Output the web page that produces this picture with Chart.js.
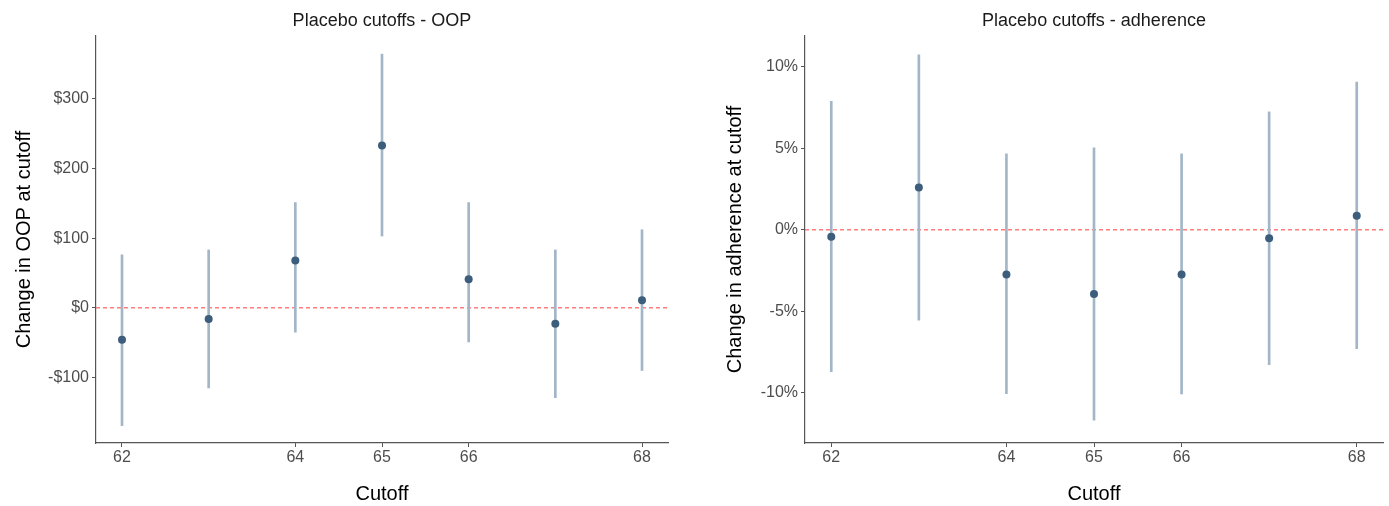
<!DOCTYPE html>
<html>
<head>
<meta charset="utf-8">
<script src="https://cdn.jsdelivr.net/npm/chart.js@4.4.1/dist/chart.umd.min.js"></script>
<style>
	html, body { margin: 0; padding: 0; background: #fff; }
	.panel { position: absolute; top: 0; height: 506px; }
	#left { left: 0; width: 694px; }
	#right { left: 694px; width: 695px; }
</style>
</head>
<body>
<div class="panel" id="left"><canvas id="oop"></canvas></div>
<div class="panel" id="right"><canvas id="adh"></canvas></div>
<script>
const cutoffs = [62, 63, 64, 65, 66, 67, 68]
const xTicks = [62, 64, 65, 66, 68]
const xRange = [61.7, 68.3]

const oopEst = [-46, -16, 68, 233, 41, -23, 11]
const oopLow = [-169, -115, -35, 103, -49, -129, -90]
const oopHigh = [76, 83, 151, 364, 151, 83, 112]
const oopTicks = [-100, 0, 100, 200, 300]
const oopRange = [-194, 390]

const adhEst = [-0.43, 2.6, -2.75, -3.94, -2.75, -0.53, 0.86]
const adhLow = [-8.72, -5.56, -10.07, -11.69, -10.09, -8.29, -7.3]
const adhHigh = [7.88, 10.75, 4.66, 5.03, 4.66, 7.24, 9.07]
const adhTicks = [-10, -5, 0, 5, 10]
const adhRange = [-13.1, 11.9]

const FONT = 'Liberation Sans, Arial, sans-serif'
const AXIS = '#555'

function makeChart(id, opts) {
	const ctx = document.getElementById(id).getContext('2d')

	Chart.defaults.font.family = FONT

	new Chart(ctx, {
		type: 'bar',
		data: {
			datasets: [
				{
					type: 'scatter',
					data: cutoffs.map((c, i) => ({ x: c, y: opts.est[i] })),
					backgroundColor: '#3c5d7c',
					borderWidth: 0,
					pointRadius: 4,
					order: 0
				},
				{
					type: 'bar',
					data: cutoffs.map((c, i) => ({ x: c, y: [opts.low[i], opts.high[i]] })),
					backgroundColor: '#a2b6c7',
					barThickness: 2,
					order: 1
				},
				{
					type: 'line',
					data: [{ x: xRange[0], y: 0 }, { x: xRange[1], y: 0 }],
					borderColor: '#ff7d7d',
					borderWidth: 1.6,
					borderDash: [4, 3],
					pointRadius: 0,
					order: 2
				}
			]
		},
		options: {
			responsive: true,
			maintainAspectRatio: false,
			animation: false,
			layout: { padding: { left: 0, right: opts.padRight, top: 0, bottom: 0 } },
			plugins: {
				legend: { display: false },
				tooltip: { enabled: false },
				title: {
					display: true,
					text: opts.title,
					fullSize: false,
					color: '#1a1a1a',
					font: { size: 18, weight: 'normal' },
					padding: { top: 10, bottom: 4.4 }
				}
			},
			scales: {
				x: {
					type: 'linear',
					min: xRange[0],
					max: xRange[1],
					offset: false,
					afterBuildTicks: (scale) => { scale.ticks = xTicks.map((v) => ({ value: v })) },
					afterFit: (scale) => { scale.height = 63 },
					grid: { offset: false, drawOnChartArea: false, color: AXIS, tickLength: 4 },
					border: { color: AXIS, width: 1.2 },
					ticks: { color: '#4d4d4d', font: { size: 16 }, padding: 1, maxRotation: 0 },
					title: { display: true, text: 'Cutoff', color: '#000', font: { size: 20 }, padding: { top: 5.5, bottom: 0 } }
				},
				y: {
					min: opts.range[0],
					max: opts.range[1],
					afterBuildTicks: (scale) => { scale.ticks = opts.ticks.map((v) => ({ value: v })) },
					afterFit: (scale) => { scale.width = opts.axisWidth },
					grid: { drawOnChartArea: false, color: AXIS, tickLength: 4 },
					border: { color: AXIS, width: 1.2 },
					ticks: { color: '#4d4d4d', font: { size: 16 }, padding: 3, callback: opts.fmt },
					title: { display: true, text: opts.yTitle, color: '#000', font: { size: 20 }, padding: { top: opts.titlePad, bottom: 0 } }
				}
			}
		}
	})
}

makeChart('oop', {
	title: 'Placebo cutoffs - OOP',
	yTitle: 'Change in OOP at cutoff',
	est: oopEst, low: oopLow, high: oopHigh,
	ticks: oopTicks, range: oopRange,
	fmt: (v) => (v < 0 ? '-$' : '$') + Math.abs(v),
	axisWidth: 96, titlePad: 12, padRight: 26
})

makeChart('adh', {
	title: 'Placebo cutoffs - adherence',
	yTitle: 'Change in adherence at cutoff',
	est: adhEst, low: adhLow, high: adhHigh,
	ticks: adhTicks, range: adhRange,
	fmt: (v) => v + '%',
	axisWidth: 111, titlePad: 29, padRight: 6
})
</script>
</body>
</html>
